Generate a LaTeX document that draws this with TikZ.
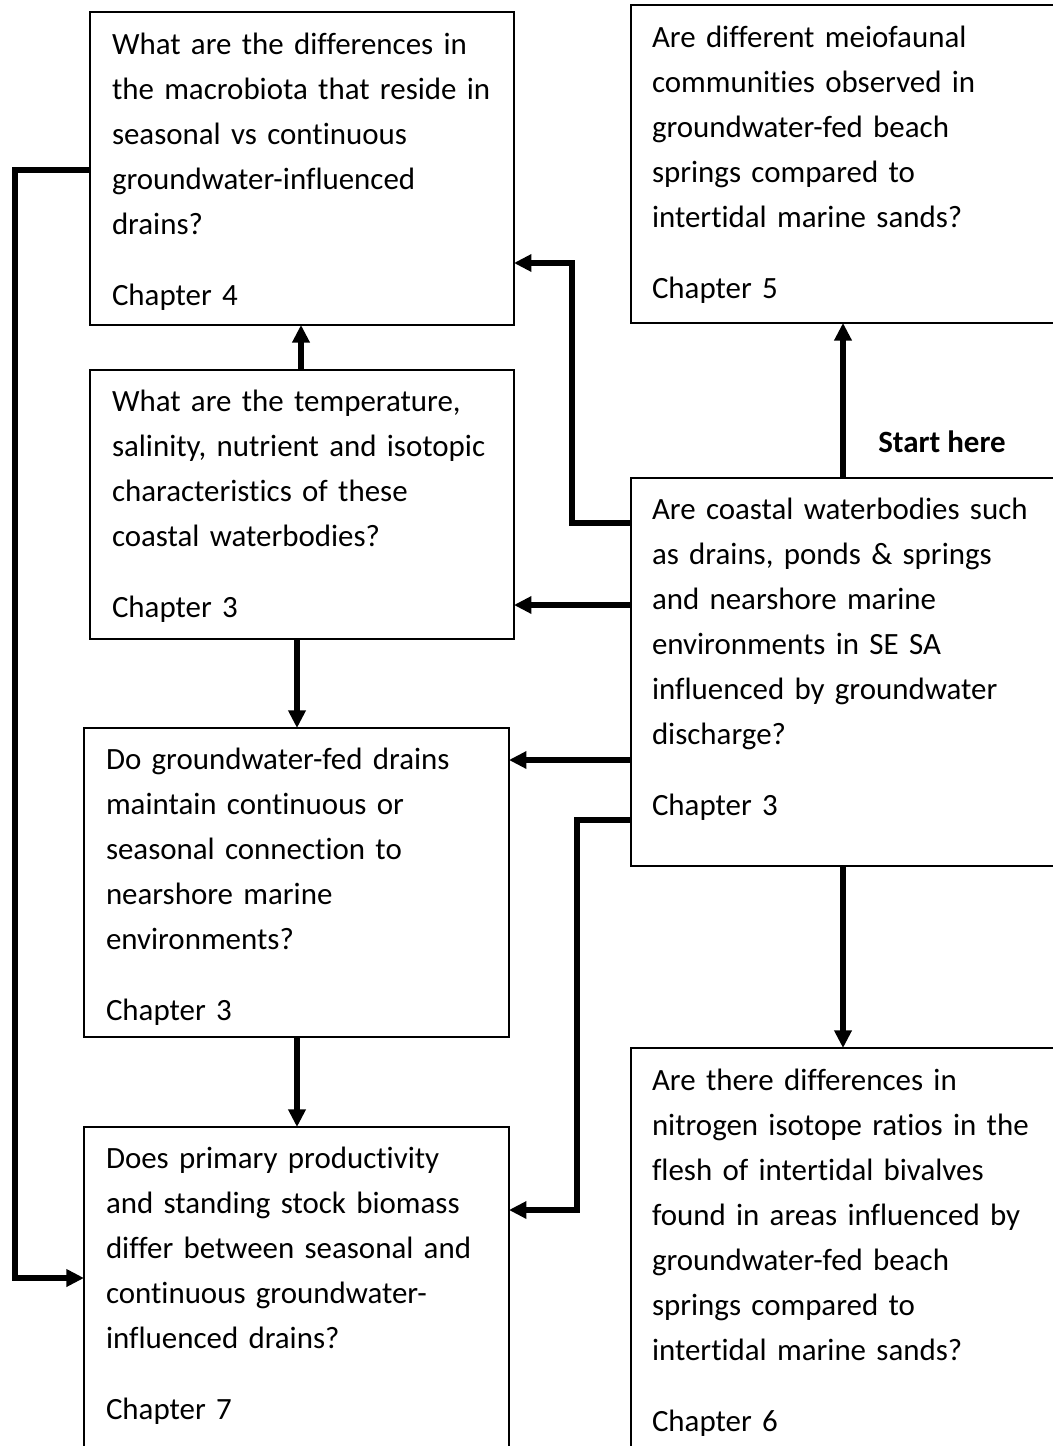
\documentclass[tikz,border=0pt]{standalone}
\usepackage{fontspec}
\setmainfont{Carlito}[Ligatures=NoCommon]
\usetikzlibrary{arrows.meta}
\usetikzlibrary{calc}
\tikzset{>={Triangle[length=10pt,width=9.5pt]}}
\tikzstyle{flow} = [line width = 3pt, ->]
\tikzstyle{qtext} = [%
					anchor = north west,
					inner sep = 0pt,
					align = left,
					text width = 8.5cm,
					font = \fontsize{17.6}{25.6}\selectfont]

\begin{document}
\begin{tikzpicture}[x=0.02cm,y=-0.02cm,box/.style args={#1,#2}{rectangle,draw,minimum width=#1,minimum height=#2,anchor=north west,inner sep=0pt},outer sep=0pt,line width=.75pt]
	
	% Frame
	\useasboundingbox (0,0) rectangle (1053,1446);
	\clip (0,0) rectangle (1053,1446);
	
	% Boxes
	\node[box={8.48cm,6.26cm}] at (90,12)  (qA) {};
	\node[box={8.8cm,6.36cm}]  at (631,5)  (qB) {};
	\node[box={8.48cm,5.38cm}] at (90,370) (qC) {};
	\node[box={8.8cm,7.76cm}]  at (631,478) (qD) {};
	\node[box={8.5cm,6.18cm}]  at (84,728) (qE) {};
	\node[box={8.5cm,6.8cm}]   at (84,1127) (qF) {};
	\node[box={8.8cm,8.4cm}]   at (631,1048) (qG) {};
	
	% Texts
	\node[qtext] at ($(qA.north west)+(22,21)$) (tA) {What are the differences in\\ the macrobiota that reside in\\ seasonal vs continuous\\ groundwater-influenced\\ drains?\\[15pt] Chapter 4};
	\node[qtext] at ($(qB.north west)+(21,21)$) (tB) {Are different meiofaunal\\ communities observed in\\ groundwater-fed beach\\ springs compared to\\ intertidal marine sands?\\[15pt] Chapter 5};
	\node[qtext] at ($(qC.north west)+(22,20)$) (tC) {What are the temperature,\\ salinity, nutrient and isotopic\\ characteristics of these\\ coastal waterbodies?\\[15pt] Chapter 3};
	\node[qtext] at ($(qD.north west)+(21,20)$) (tD) {Are coastal waterbodies such\\ as drains, ponds \& springs\\ and nearshore marine\\ environments in SE SA\\ influenced by groundwater\\ discharge?\\[15pt] Chapter 3};
	\node[qtext] at ($(qE.north west)+(22,20)$) (tE) {Do groundwater-fed drains\\ maintain continuous or\\ seasonal connection to\\ nearshore marine\\ environments?\\[15pt] Chapter 3};
	\node[qtext] at ($(qF.north west)+(22,20)$) (tF) {Does primary productivity\\ and standing stock biomass\\ differ between seasonal and\\ continuous groundwater-\\ influenced drains?\\[15pt] Chapter 7};
	\node[qtext] at ($(qG.north west)+(21,21)$) (tG) {Are there differences in\\ nitrogen isotope ratios in the\\ flesh of intertidal bivalves\\ found in areas influenced by\\ groundwater-fed beach\\ springs compared to\\ intertidal marine sands?\\[15pt] Chapter 6};
	
	%% Start
	\node[font=\bfseries\fontsize{17.6}{22}\selectfont] at (942,442) (start) {Start here};
	
	% Arrows
	\draw[flow] (qD.north west |- 0,523) -| (572,263) -- (qA.east |- 0,263);
	\draw[flow] (qD.west |- 0,605) -- (qC.east |- 0,605);
	\draw[flow] (qD.west |- 0,760) -- (qE.east |- 0,760);
	\draw[flow] (qD.west |- 0,820) -| (577,1210) -- (qF.east |- 0,1210);
	\draw[flow] (843,0 |- qD.north) -- (843,0 |- qB.south);
	\draw[flow] (843,0 |- qD.south) -- (843,0 |- qG.north);
	\draw[flow] (301,0 |- qC.north) -- (301,0 |- qA.south);
	\draw[flow] (297,0 |- qC.south) -- (297,0 |- qE.north);
	\draw[flow] (297,0 |- qE.south) -- (297,0 |- qF.north);
	\draw[flow] (qA.west |- 0,170) -| (15,1278) -- (qF.west |- 0,1278);
\end{tikzpicture}
\end{document}
